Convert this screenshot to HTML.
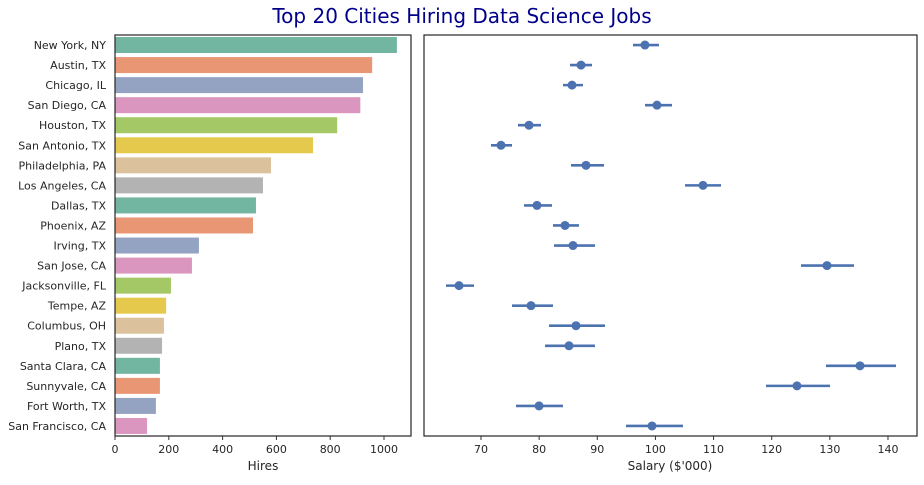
<!DOCTYPE html>
<html><head><meta charset="utf-8"><style>
body{margin:0;background:#fff;}
svg text{font-family:"DejaVu Sans","Liberation Sans",sans-serif;fill:#262626;}
</style></head><body>
<svg id="chart" width="924" height="480" xmlns="http://www.w3.org/2000/svg">
<text x="462" y="23" text-anchor="middle" font-size="20" style="fill:#00008b">Top 20 Cities Hiring Data Science Jobs</text>
<g id="left"></g>
<g id="right"></g>
</svg>
<script>
const cities=["New York, NY","Austin, TX","Chicago, IL","San Diego, CA","Houston, TX","San Antonio, TX","Philadelphia, PA","Los Angeles, CA","Dallas, TX","Phoenix, AZ","Irving, TX","San Jose, CA","Jacksonville, FL","Tempe, AZ","Columbus, OH","Plano, TX","Santa Clara, CA","Sunnyvale, CA","Fort Worth, TX","San Francisco, CA"];
const hires=[1048,956,922,912,826,736,580,550,524,513,312,286,208,190,182,175,167,167,152,119];
const salary=[98.2,87.2,85.65,100.27,78.26,73.44,88.06,108.18,79.63,84.45,85.82,129.51,66.22,78.6,86.34,85.14,135.19,124.35,79.98,99.41];
const salaryLow=[96.14,85.31,84.10,98.21,76.36,71.72,85.48,105.09,77.40,82.38,82.56,125.04,63.98,75.33,81.70,81.01,129.34,119.02,76.02,94.94];
const salaryHigh=[100.61,89.09,87.54,102.85,80.32,75.33,91.16,111.28,82.21,86.86,89.61,134.16,68.80,82.38,91.33,89.61,141.38,130.03,84.10,104.74];
const hireTicks=[0,200,400,600,800,1000];
const salaryTicks=[70,80,90,100,110,120,130,140];
const palette=["#72b6a1","#e99675","#95a3c3","#db96c0","#a4c865","#e5c94c","#dbc29d","#b3b3b3"];
const NS="http://www.w3.org/2000/svg";
function mk(p,t,a){const e=document.createElementNS(NS,t);for(const k in a)e.setAttribute(k,a[k]);p.appendChild(e);return e;}
const yTop=35,yBot=436,nRows=cities.length,step=(yBot-yTop)/nRows;
const yC=i=>yTop+step*(i+0.5);
const L=document.getElementById('left'),R=document.getElementById('right');
const xL=v=>115+v*0.2690;
const xR=v=>481+(v-70)*5.814;
cities.forEach((c,i)=>{
 const r=mk(L,'rect',{x:xL(0),y:yC(i)-8,width:xL(hires[i])-xL(0),height:16,fill:palette[i%8]});
 
 
 const t=mk(L,'text',{x:106,y:yC(i)+4,'text-anchor':'end','font-size':11});
 t.textContent=c;
 
 
});
hireTicks.forEach(v=>{
 mk(L,'line',{x1:xL(v),x2:xL(v),y1:yBot,y2:yBot+4,stroke:'#333'});
 const t=mk(L,'text',{x:xL(v),y:yBot+17,'text-anchor':'middle','font-size':11});
 t.textContent=v;
 
 
});
const f1=mk(L,'rect',{x:115,y:yTop,width:296,height:yBot-yTop,fill:'none',stroke:'#262626','stroke-width':1.2});


const xt1=mk(L,'text',{x:263,y:470,'text-anchor':'middle','font-size':12});
xt1.textContent='Hires';


cities.forEach((c,i)=>{
 const l=mk(R,'line',{x1:xR(salaryLow[i]),x2:xR(salaryHigh[i]),y1:yC(i),y2:yC(i),stroke:'#4c72b0','stroke-width':2.6});
 
 
 const p=mk(R,'circle',{cx:xR(salary[i]),cy:yC(i),r:4.5,fill:'#4c72b0'});
 
 
});
salaryTicks.forEach(v=>{
 mk(R,'line',{x1:xR(v),x2:xR(v),y1:yBot,y2:yBot+4,stroke:'#333'});
 const t=mk(R,'text',{x:xR(v),y:yBot+17,'text-anchor':'middle','font-size':11});
 t.textContent=v;
 
 
});
const f2=mk(R,'rect',{x:424,y:yTop,width:493,height:yBot-yTop,fill:'none',stroke:'#262626','stroke-width':1.2});


const xt2=mk(R,'text',{x:670,y:470,'text-anchor':'middle','font-size':12});
xt2.textContent="Salary ($'000)";


</script>
</body></html>
